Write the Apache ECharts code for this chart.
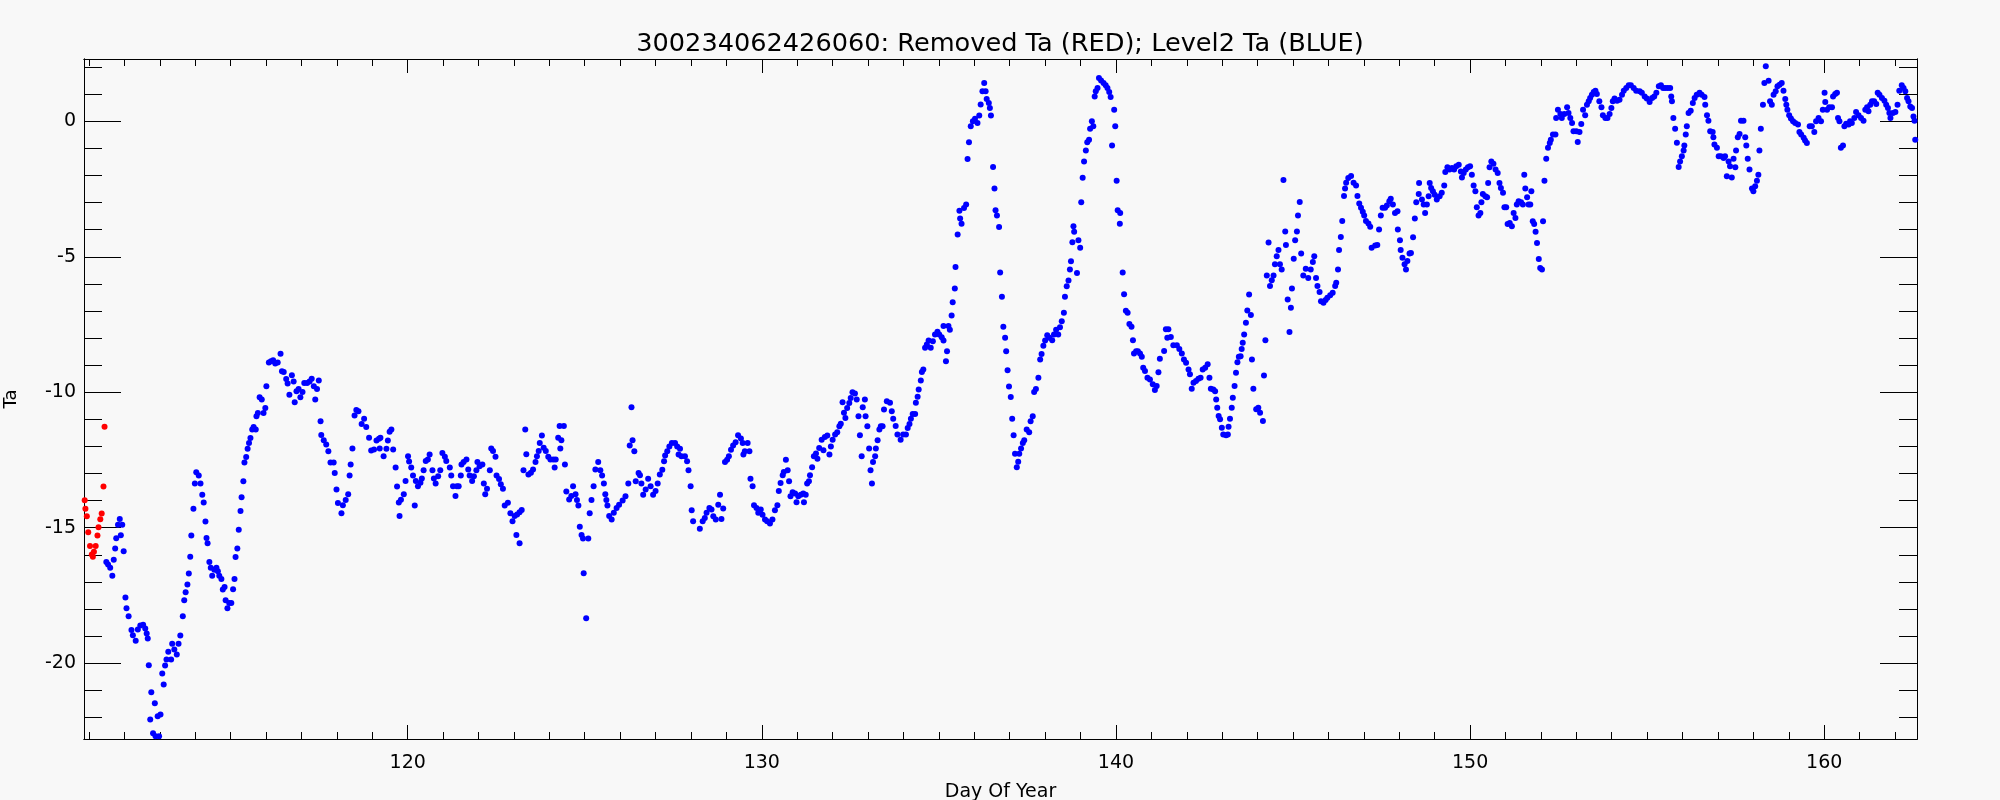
<!DOCTYPE html>
<html><head><meta charset="utf-8">
<script src="https://cdn.jsdelivr.net/npm/echarts@6/dist/echarts.min.js"></script>
<style>html,body{margin:0;padding:0;background:#f8f8f8}#c{width:2000px;height:800px}</style>
</head><body><div id="c"></div>
<script>
const titleText = '300234062426060: Removed Ta (RED); Level2 Ta (BLUE)';
const xName = 'Day Of Year';
const yName = 'Ta';
const xRange = [110.86, 162.62];
const yRange = [-22.8, 2.3];

const removedTa = [
[110.85,-13.80],[110.88,-13.99],[110.90,-14.30],[110.94,-14.58],[110.98,-15.17],[111.03,-15.68],[111.08,-15.99],[111.11,-16.07],
[111.14,-15.89],[111.19,-15.68],[111.24,-15.29],[111.27,-14.98],[111.32,-14.69],[111.36,-14.48],[111.41,-13.48],[111.44,-11.27]
];

const level2Ta = [
[111.49,-16.27],[111.54,-16.36],[111.60,-16.48],[111.66,-16.77],[111.70,-16.18],[111.74,-15.77],[111.77,-15.39],[111.82,-14.89],[111.87,-14.68],[111.90,-15.28],[111.94,-14.89],[111.98,-15.87],[112.03,-17.58],[112.06,-17.97],[112.12,-18.27],[112.20,-18.78],[112.24,-18.97],[112.32,-19.17],[112.38,-18.76],[112.45,-18.61],[112.53,-18.58],[112.59,-18.72],[112.63,-18.91],[112.66,-19.09],[112.69,-20.08],[112.73,-22.08],[112.76,-21.07],[112.81,-22.59],[112.86,-21.48],[112.88,-22.70],[112.94,-21.96],[112.98,-22.70],[113.02,-21.90],[113.07,-20.38],[113.11,-20.79],[113.15,-20.09],[113.19,-19.87],[113.24,-19.58],[113.32,-19.87],[113.35,-19.28],[113.41,-19.50],[113.48,-19.68],[113.53,-19.28],[113.58,-18.98],[113.65,-18.27],[113.69,-17.68],[113.73,-17.38],[113.78,-17.10],[113.82,-16.69],[113.86,-16.07],[113.89,-15.29],[113.95,-14.30],[113.99,-13.37],[114.03,-12.95],[114.10,-13.07],[114.15,-13.37],[114.20,-13.78],[114.24,-14.07],[114.29,-14.77],[114.32,-15.38],[114.35,-15.57],[114.40,-16.27],[114.44,-16.48],[114.48,-16.77],[114.54,-16.55],[114.60,-16.48],[114.64,-16.61],[114.68,-16.77],[114.74,-16.89],[114.78,-17.28],[114.83,-17.19],[114.86,-17.68],[114.91,-17.97],[114.96,-17.78],[115.02,-17.78],[115.07,-17.27],[115.11,-16.89],[115.14,-16.08],[115.19,-15.77],[115.23,-15.08],[115.28,-14.38],[115.31,-13.88],[115.36,-13.29],[115.39,-12.59],[115.44,-12.39],[115.48,-12.09],[115.52,-11.87],[115.56,-11.69],[115.61,-11.38],[115.65,-11.28],[115.71,-11.38],[115.73,-10.89],[115.77,-10.77],[115.82,-10.19],[115.88,-10.27],[115.93,-10.77],[115.98,-10.58],[116.01,-9.78],[116.08,-8.90],[116.14,-8.86],[116.20,-8.82],[116.26,-8.94],[116.33,-8.90],[116.41,-8.58],[116.45,-9.23],[116.50,-9.25],[116.57,-9.51],[116.61,-9.68],[116.66,-10.09],[116.73,-9.37],[116.78,-9.60],[116.81,-10.37],[116.86,-9.96],[116.92,-9.88],[116.97,-10.19],[117.03,-9.99],[117.08,-9.66],[117.16,-9.66],[117.23,-9.60],[117.29,-9.50],[117.35,-9.78],[117.39,-10.27],[117.44,-9.88],[117.49,-9.57],[117.54,-11.07],[117.56,-11.58],[117.63,-11.77],[117.70,-11.93],[117.76,-12.18],[117.82,-12.59],[117.91,-12.59],[117.94,-12.98],[117.99,-13.59],[118.03,-14.09],
[118.13,-14.47],[118.17,-14.17],[118.25,-13.98],[118.32,-13.77],[118.36,-13.07],[118.39,-12.67],[118.44,-12.08],[118.50,-10.86],[118.55,-10.66],[118.61,-10.70],[118.70,-11.17],[118.77,-10.98],[118.83,-11.28],[118.91,-11.68],[118.97,-12.15],[119.05,-12.11],[119.12,-11.78],[119.19,-11.72],[119.23,-11.68],[119.21,-12.08],[119.32,-12.36],[119.40,-12.09],[119.44,-11.78],[119.49,-11.46],[119.54,-11.38],[119.59,-12.11],[119.66,-12.78],[119.70,-13.48],[119.75,-14.07],[119.81,-13.97],[119.89,-13.77],[119.77,-14.57],[119.94,-13.28],[120.01,-12.36],[120.04,-12.56],[120.10,-12.78],[120.15,-13.07],[120.20,-14.18],[120.23,-13.28],[120.29,-13.47],[120.36,-13.34],[120.40,-13.18],[120.45,-12.88],[120.51,-12.54],[120.57,-12.48],[120.62,-12.30],[120.70,-12.88],[120.74,-13.18],[120.79,-13.37],[120.86,-13.10],[120.92,-12.88],[120.98,-12.24],[121.05,-12.38],[121.09,-12.54],[121.19,-12.78],[121.23,-13.07],[121.28,-13.47],[121.35,-13.83],[121.39,-13.47],[121.44,-13.47],[121.50,-13.07],[121.52,-12.67],[121.58,-12.58],[121.66,-12.48],[121.71,-12.85],[121.75,-13.07],[121.82,-13.28],[121.87,-13.10],[121.94,-12.88],[121.97,-12.58],[122.03,-12.73],[122.11,-12.67],[122.15,-13.37],[122.19,-13.77],[122.24,-13.56],[122.32,-12.88],[122.36,-12.08],[122.41,-12.17],[122.48,-12.38],[122.51,-13.07],[122.58,-13.20],[122.63,-13.40],[122.69,-13.56],[122.74,-14.18],[122.83,-14.08],[122.90,-14.47],[122.96,-14.76],[123.02,-14.57],[123.09,-14.51],[123.16,-14.43],[123.22,-14.35],[123.07,-15.27],[123.16,-15.57],[123.27,-12.88],[123.32,-11.38],[123.35,-12.29],[123.41,-13.04],[123.48,-12.97],[123.54,-12.85],[123.61,-12.58],[123.65,-12.36],[123.70,-12.17],[123.73,-11.87],[123.79,-11.60],[123.84,-12.05],[123.90,-12.17],[123.97,-12.38],[124.03,-12.48],[124.11,-12.48],[124.18,-12.48],[124.15,-12.78],[124.25,-11.68],[124.29,-11.25],[124.34,-11.77],[124.31,-12.08],[124.41,-11.25],[124.44,-12.67],[124.48,-13.66],[124.56,-13.96],[124.62,-13.83],[124.67,-13.47],[124.74,-13.77],[124.78,-13.98],[124.82,-14.18],[124.86,-14.97],[124.91,-15.27],[124.95,-15.40],[125.10,-15.40],[124.97,-16.68],[125.04,-18.34],[125.14,-14.47],[125.19,-13.98],[125.25,-13.47],[125.30,-12.85],[125.38,-12.58],[125.44,-12.88],[125.49,-13.07],[125.54,-13.37],[125.58,-13.77],[125.61,-13.98],[125.64,-14.18],[125.69,-14.57],
[125.76,-14.70],[125.82,-14.45],[125.90,-14.27],[125.97,-14.15],[126.07,-14.00],[126.15,-13.84],[126.23,-13.37],[126.27,-11.97],[126.32,-10.55],[126.35,-11.77],[126.40,-12.18],[126.44,-13.29],[126.52,-12.98],[126.56,-13.06],[126.60,-13.37],[126.65,-13.78],[126.72,-13.59],[126.79,-13.19],[126.86,-13.47],[126.93,-13.78],[127.00,-13.65],[127.06,-13.37],[127.12,-13.04],[127.19,-12.86],[127.24,-12.55],[127.27,-12.34],[127.33,-12.18],[127.39,-12.00],[127.46,-11.87],[127.55,-11.87],[127.61,-12.00],[127.69,-12.09],[127.65,-12.30],[127.73,-12.36],[127.83,-12.36],[127.89,-12.55],[127.93,-12.88],[127.99,-13.47],[128.02,-14.36],[128.06,-14.76],[128.25,-15.04],[128.33,-14.76],[128.39,-14.64],[128.44,-14.45],[128.52,-14.27],[128.58,-14.33],[128.63,-14.58],[128.70,-14.70],[128.77,-14.15],[128.82,-13.78],[128.86,-14.68],[128.91,-14.29],[128.96,-12.58],[129.02,-12.49],[129.07,-12.36],[129.13,-12.12],[129.19,-11.97],[129.26,-11.85],[129.33,-11.59],[129.41,-11.71],[129.46,-11.87],[129.60,-11.87],[129.52,-12.18],[129.65,-12.18],[129.48,-12.30],[129.68,-13.19],[129.74,-13.47],[129.78,-14.17],[129.85,-14.27],[129.90,-14.45],[129.97,-14.33],[130.02,-14.52],[130.09,-14.70],[130.15,-14.76],[130.23,-14.85],[130.30,-14.70],[130.37,-14.36],[130.44,-14.17],[130.48,-13.65],[130.53,-13.35],[130.59,-13.06],[130.62,-12.94],[130.68,-12.49],[130.73,-12.88],[130.77,-13.29],[130.81,-13.84],[130.87,-13.69],[130.94,-13.74],[130.98,-14.06],[131.03,-13.84],[131.10,-13.78],[131.17,-13.74],[131.19,-14.06],[131.24,-13.78],[131.28,-13.37],[131.33,-13.29],[131.36,-13.06],[131.42,-12.77],[131.47,-12.36],[131.53,-12.26],[131.57,-12.46],[131.62,-12.06],[131.69,-11.75],[131.74,-12.14],[131.78,-11.65],[131.85,-11.60],[131.91,-12.30],[131.95,-12.00],[132.00,-11.75],[132.07,-11.56],[132.13,-11.48],[132.19,-11.26],[132.23,-11.16],[132.28,-10.37],[132.32,-10.76],[132.36,-10.95],[132.41,-10.58],[132.47,-10.40],[132.51,-10.21],[132.56,-10.00],[132.63,-10.05],[132.68,-10.27],[132.73,-10.89],[132.77,-11.59],[132.82,-12.36],[132.85,-10.55],[132.91,-10.27],[132.93,-10.89],[132.98,-11.26],[133.03,-12.08],[133.07,-12.88],[133.11,-13.37],[133.14,-12.58],[133.20,-12.36],[133.22,-12.08],[133.27,-11.77],[133.32,-11.38],[133.36,-11.26],[133.41,-11.26],[133.45,-10.64],[133.53,-10.33],
[133.62,-10.39],[133.67,-10.70],[133.71,-10.98],[133.78,-11.25],[133.83,-11.56],[133.92,-11.75],[133.99,-11.56],[134.07,-11.56],[134.12,-11.32],[134.17,-11.17],[134.21,-10.98],[134.26,-10.80],[134.33,-10.80],[134.35,-10.39],[134.40,-10.17],[134.43,-9.90],[134.49,-9.57],[134.52,-9.25],[134.56,-9.16],[134.61,-8.36],[134.66,-8.24],[134.71,-8.09],[134.77,-8.36],[134.83,-8.12],[134.89,-7.87],[134.96,-7.77],[135.01,-7.87],[135.08,-7.97],[135.13,-8.09],[135.20,-8.86],[135.23,-8.49],[135.13,-7.56],[135.27,-7.56],[135.31,-7.69],[135.36,-7.17],[135.39,-6.68],[135.45,-6.17],[135.47,-5.38],[135.53,-4.18],[135.60,-3.59],[135.64,-3.78],[135.58,-3.30],[135.71,-3.20],[135.77,-3.07],[135.81,-1.39],[135.85,-0.77],[135.90,-0.18],[135.96,0.00],[136.02,0.09],[136.09,-0.06],[136.14,0.21],[136.18,0.62],[136.23,1.11],[136.28,1.41],[136.32,1.11],[136.35,0.82],[136.41,0.68],[136.44,0.49],[136.47,0.21],[136.53,-1.69],[136.57,-2.48],[136.60,-3.28],[136.64,-3.48],[136.70,-3.90],[136.73,-5.58],[136.78,-6.48],[136.82,-7.58],[136.87,-7.99],[136.90,-8.49],[136.94,-9.19],[136.98,-9.79],[137.03,-10.18],[137.07,-10.98],[137.11,-11.59],[137.15,-12.27],[137.20,-12.77],[137.24,-12.57],[137.27,-12.27],[137.32,-12.08],[137.37,-11.87],[137.41,-11.77],[137.48,-11.38],[137.55,-11.48],[137.59,-11.07],[137.65,-10.89],[137.69,-9.99],[137.74,-9.88],[137.81,-9.47],[137.86,-8.79],[137.90,-8.59],[137.95,-8.28],[138.00,-8.09],[138.06,-7.90],[138.12,-7.99],[138.20,-8.08],[138.25,-7.87],[138.31,-7.69],[138.37,-7.87],[138.42,-7.60],[138.47,-7.38],[138.53,-7.07],[138.56,-6.48],[138.61,-6.09],[138.66,-5.88],[138.70,-5.47],[138.73,-5.17],[138.77,-4.46],[138.82,-4.08],[138.80,-3.87],[138.90,-5.60],[138.94,-4.39],[138.99,-4.67],[139.02,-2.99],[139.06,-2.08],[139.10,-1.48],[139.15,-1.08],[139.19,-0.77],[139.24,-0.68],[139.27,-0.27],[139.32,0.00],[139.36,-0.18],[139.40,0.92],[139.43,1.11],[139.48,1.23],[139.52,1.60],[139.58,1.51],[139.65,1.41],[139.71,1.33],[139.76,1.23],[139.81,1.08],[139.85,0.90],[139.89,-0.89],[139.95,0.43],[139.98,-0.18],[140.02,-2.19],[140.05,-3.28],[140.12,-3.38],[140.11,-3.78],[140.19,-5.58],[140.23,-6.38],[140.28,-6.99],[140.33,-7.07],[140.38,-7.48],[140.44,-7.58],[140.48,-8.08],[140.51,-8.57],[140.57,-8.49],[140.62,-8.49],
[140.68,-8.57],[140.73,-8.69],[140.77,-9.10],[140.82,-9.22],[140.89,-9.47],[140.96,-9.53],[141.04,-9.71],[141.10,-9.92],[141.15,-9.77],[141.20,-9.26],[141.24,-8.76],[141.36,-8.48],[141.41,-7.68],[141.48,-7.68],[141.45,-7.99],[141.55,-7.96],[141.62,-8.27],[141.72,-8.27],[141.79,-8.40],[141.86,-8.57],[141.92,-8.79],[141.98,-8.91],[142.05,-9.16],[142.09,-9.34],[142.14,-9.87],[142.19,-9.65],[142.26,-9.59],[142.33,-9.50],[142.39,-9.47],[142.45,-9.16],[142.52,-9.10],[142.59,-8.97],[142.64,-9.47],[142.68,-9.87],[142.75,-9.90],[142.80,-9.96],[142.83,-10.27],[142.86,-10.57],[142.90,-10.88],[142.94,-11.00],[142.99,-11.31],[143.03,-11.56],[143.11,-11.59],[143.16,-11.56],[143.18,-11.27],[143.22,-10.98],[143.27,-10.57],[143.30,-10.20],[143.35,-9.77],[143.39,-9.28],[143.43,-8.89],[143.47,-8.69],[143.52,-8.67],[143.55,-8.40],[143.58,-8.17],[143.62,-7.87],[143.67,-7.44],[143.71,-6.98],[143.76,-6.39],[143.81,-7.15],[143.84,-8.79],[143.88,-9.87],[143.96,-10.63],[144.02,-10.57],[144.07,-10.76],[144.15,-11.06],[144.18,-9.38],[144.22,-8.08],[144.26,-5.69],[144.31,-4.47],[144.35,-6.08],[144.40,-5.87],[144.45,-5.69],[144.49,-5.28],[144.54,-4.98],[144.59,-4.75],[144.63,-5.28],[144.68,-5.47],[144.73,-2.17],[144.78,-4.07],[144.80,-4.57],[144.85,-6.58],[144.90,-7.78],[144.94,-6.88],[144.97,-6.17],[145.02,-5.07],[145.06,-4.39],[145.11,-4.07],[145.14,-3.48],[145.19,-2.98],[145.23,-4.88],[145.29,-5.69],[145.36,-5.44],[145.43,-5.78],[145.50,-5.47],[145.56,-5.19],[145.60,-4.98],[145.65,-5.78],[145.69,-6.08],[145.75,-6.30],[145.79,-6.64],[145.86,-6.70],[145.92,-6.60],[145.97,-6.51],[146.05,-6.42],[146.12,-6.33],[146.19,-6.08],[146.22,-5.96],[146.27,-5.47],[146.30,-4.75],[146.35,-4.27],[146.39,-3.68],[146.44,-2.76],[146.47,-2.48],[146.50,-2.27],[146.56,-2.09],[146.64,-2.02],[146.71,-2.27],[146.78,-2.37],[146.82,-2.76],[146.87,-3.03],[146.92,-3.19],[146.97,-3.34],[147.01,-3.48],[147.06,-3.68],[147.13,-3.77],[147.18,-3.89],[147.22,-4.67],[147.32,-4.58],[147.38,-4.57],[147.43,-3.99],[147.48,-3.48],[147.53,-3.19],[147.60,-3.19],[147.65,-3.11],[147.72,-2.95],[147.76,-2.86],[147.82,-3.07],[147.88,-3.38],[147.95,-3.32],[147.96,-3.99],[148.02,-4.39],[148.04,-4.75],[148.09,-5.04],[148.15,-5.28],[148.19,-5.47],[148.23,-5.16],[148.29,-4.88],
[148.33,-4.86],[148.39,-4.28],[148.44,-3.59],[148.48,-2.99],[148.55,-2.68],[148.56,-2.28],[148.64,-2.89],[148.69,-3.07],[148.73,-3.38],[148.78,-3.07],[148.83,-2.77],[148.86,-2.28],[148.90,-2.46],[148.95,-2.58],[149.00,-2.71],[149.06,-2.89],[149.14,-2.77],[149.20,-2.64],[149.27,-2.37],[149.30,-1.87],[149.36,-1.70],[149.42,-1.78],[149.49,-1.72],[149.55,-1.78],[149.61,-1.66],[149.68,-1.60],[149.74,-1.85],[149.77,-2.07],[149.82,-1.91],[149.88,-1.78],[149.94,-1.70],[150.00,-1.66],[150.05,-1.97],[150.10,-2.37],[150.15,-2.58],[150.19,-3.17],[150.24,-3.48],[150.29,-3.38],[150.32,-2.99],[150.36,-2.68],[150.43,-2.77],[150.48,-2.80],[150.51,-2.28],[150.55,-1.70],[150.60,-1.48],[150.66,-1.57],[150.72,-1.78],[150.78,-1.91],[150.83,-2.28],[150.87,-2.46],[150.93,-2.64],[150.97,-3.17],[151.02,-3.17],[151.06,-3.79],[151.12,-3.75],[151.18,-3.87],[151.23,-3.38],[151.28,-3.57],[151.32,-3.07],[151.37,-2.95],[151.44,-2.99],[151.49,-3.07],[151.53,-1.97],[151.56,-2.48],[151.61,-2.80],[151.65,-3.07],[151.70,-3.07],[151.73,-2.58],[151.77,-3.69],[151.81,-3.79],[151.85,-4.08],[151.89,-4.49],[151.94,-5.08],[151.98,-5.41],[152.03,-5.47],[152.06,-3.69],[152.10,-2.19],[152.15,-1.38],[152.20,-0.98],[152.25,-0.80],[152.28,-0.68],[152.34,-0.49],[152.41,-0.49],[152.43,0.12],[152.48,0.43],[152.55,0.27],[152.59,0.12],[152.66,0.27],[152.74,0.52],[152.78,0.31],[152.83,0.12],[152.88,-0.06],[152.92,-0.37],[153.00,-0.37],[153.04,-0.76],[153.09,-0.39],[153.14,-0.10],[153.19,0.43],[153.25,0.22],[153.30,0.61],[153.35,0.74],[153.39,0.86],[153.44,0.98],[153.49,1.08],[153.54,1.13],[153.58,1.01],[153.65,0.74],[153.71,0.52],[153.75,0.22],[153.82,0.12],[153.88,0.12],[153.94,0.27],[153.99,0.49],[154.03,0.74],[154.08,0.84],[154.15,0.76],[154.22,0.80],[154.29,0.98],[154.34,1.13],[154.41,1.23],[154.48,1.33],[154.54,1.33],[154.62,1.23],[154.69,1.13],[154.79,1.11],[154.85,1.05],[154.93,0.92],[154.99,0.84],[155.07,0.71],[155.14,0.86],[155.20,0.92],[155.26,1.05],[155.33,1.29],[155.39,1.33],[155.45,1.23],[155.51,1.23],[155.58,1.23],
[155.65,1.23],[155.68,0.92],[155.70,0.74],[155.74,0.12],[155.79,-0.27],[155.84,-0.79],[155.89,-1.69],[155.93,-1.48],[155.98,-1.29],[156.03,-1.08],[156.05,-0.89],[156.09,-0.49],[156.12,-0.18],[156.17,0.31],[156.23,0.39],[156.29,0.68],[156.34,0.86],[156.40,0.98],[156.48,1.05],[156.54,0.98],[156.62,0.90],[156.64,0.61],[156.69,0.22],[156.73,0.02],[156.78,-0.37],[156.85,-0.39],[156.87,-0.59],[156.90,-0.86],[156.97,-0.98],[157.02,-1.29],[157.08,-1.29],[157.16,-1.35],[157.20,-1.29],[157.25,-2.03],[157.30,-1.48],[157.34,-1.66],[157.39,-2.07],[157.44,-1.38],[157.49,-1.70],[157.51,-1.08],[157.56,-0.59],[157.61,-0.47],[157.65,0.02],[157.72,0.02],[157.77,-0.59],[157.80,-0.89],[157.84,-1.38],[157.89,-1.78],[157.96,-2.48],[158.00,-2.58],[158.05,-2.40],[158.10,-2.19],[158.14,-1.97],[158.17,-1.08],[158.21,-0.27],[158.27,0.61],[158.31,1.41],[158.35,2.03],[158.38,2.31],[158.43,1.50],[158.47,0.74],[158.52,0.61],[158.57,0.98],[158.63,1.11],[158.68,1.29],[158.74,1.35],[158.80,1.41],[158.85,1.13],[158.90,0.82],[158.93,0.61],[158.96,0.43],[159.01,0.22],[159.06,0.10],[159.12,0.00],[159.18,-0.06],[159.26,-0.12],[159.30,-0.39],[159.35,-0.49],[159.42,-0.61],[159.46,-0.71],[159.51,-0.80],[159.59,-0.18],[159.65,-0.18],[159.72,-0.39],[159.77,0.00],[159.84,0.12],[159.91,0.00],[159.96,0.43],[160.01,1.05],[160.03,0.71],[160.08,0.43],[160.14,0.52],[160.22,0.52],[160.25,0.92],[160.31,1.01],[160.36,1.05],[160.39,0.12],[160.43,0.00],[160.47,-0.98],[160.53,-0.89],[160.57,-0.18],[160.62,-0.09],[160.69,-0.12],[160.73,0.00],[160.78,-0.06],[160.85,0.12],[160.90,0.34],[160.97,0.22],[161.04,0.12],[161.11,0.02],[161.16,0.43],[161.21,0.52],[161.25,0.37],[161.30,0.61],[161.35,0.74],[161.41,0.74],[161.47,0.64],[161.51,1.05],[161.56,0.98],[161.63,0.86],[161.70,0.76],[161.75,0.61],[161.80,0.49],[161.84,0.31],[161.87,0.12],[161.94,0.31],[162.01,0.34],[162.07,0.61],[162.12,1.13],[162.19,1.33],[162.24,1.23],[162.29,1.11],[162.34,0.86],[162.38,0.74],[162.43,0.55],[162.48,0.49],[162.52,0.18],[162.55,0.02],[162.57,-0.68]
];

const FONT = 'DejaVu Sans';
const BLACK = '#000000';

function isMult(v, m) { const r = Math.round(v / m) * m; return Math.abs(v - r) < 1e-6; }

function xAxisDef(pos, step, tickLen, withLabels) {
  return {
    type: 'value', position: pos, min: xRange[0], max: xRange[1],
    minInterval: step, maxInterval: step, splitNumber: 6,
    axisLine: { show: true, onZero: false, lineStyle: { color: BLACK, width: 1 } },
    axisTick: { show: true, inside: true, length: tickLen, lineStyle: { color: BLACK, width: 1 } },
    axisLabel: withLabels ? {
      show: true, color: BLACK, fontFamily: FONT, fontSize: 19, margin: 15,
      showMinLabel: false, showMaxLabel: false,
      formatter: v => isMult(v, 10) ? String(Math.round(v)) : ''
    } : { show: false },
    splitLine: { show: false },
    name: withLabels ? xName : '', nameLocation: 'middle', nameGap: 44,
    nameTextStyle: { color: BLACK, fontFamily: FONT, fontSize: 19 }
  };
}
function yAxisDef(pos, step, tickLen, withLabels) {
  return {
    type: 'value', position: pos, min: yRange[0], max: yRange[1],
    minInterval: step, maxInterval: step, splitNumber: 5,
    axisLine: { show: true, onZero: false, lineStyle: { color: BLACK, width: 1 } },
    axisTick: { show: true, inside: true, length: tickLen, lineStyle: { color: BLACK, width: 1 } },
    axisLabel: withLabels ? {
      show: true, color: BLACK, fontFamily: FONT, fontSize: 19, margin: 8,
      showMinLabel: false, showMaxLabel: false,
      formatter: v => isMult(v, 5) ? String(Math.round(v)) : ''
    } : { show: false },
    splitLine: { show: false },
    name: withLabels ? yName : '', nameLocation: 'middle', nameGap: 64, nameRotate: 90,
    nameTextStyle: { color: BLACK, fontFamily: FONT, fontSize: 18 }
  };
}

const chart = echarts.init(document.getElementById('c'), null, { renderer: 'canvas' });
chart.setOption({
  animation: false,
  backgroundColor: '#f8f8f8',
  title: {
    text: titleText, left: 'center', top: 26,
    textStyle: { color: BLACK, fontFamily: FONT, fontSize: 25.6, fontWeight: 'normal' }
  },
  grid: { left: 84, right: 83, top: 59, bottom: 61, containLabel: false, outerBoundsMode: 'none' },
  xAxis: [
    xAxisDef('bottom', 10, 14, true),
    xAxisDef('bottom', 1, 7, false),
    xAxisDef('top', 10, 14, false),
    xAxisDef('top', 1, 7, false)
  ],
  yAxis: [
    yAxisDef('left', 5, 37, true),
    yAxisDef('left', 1, 18, false),
    yAxisDef('right', 5, 37, false),
    yAxisDef('right', 1, 18, false)
  ],
  series: [
    { type: 'scatter', name: 'Level2 Ta', data: level2Ta, xAxisIndex: 0, yAxisIndex: 0,
      symbol: 'circle', symbolSize: 6, itemStyle: { color: '#0000ff', opacity: 1 }, silent: true },
    { type: 'scatter', name: 'Removed Ta', data: removedTa, xAxisIndex: 0, yAxisIndex: 0,
      symbol: 'circle', symbolSize: 6, itemStyle: { color: '#ff0000', opacity: 1 }, silent: true }
  ]
});
</script>
</body></html>
